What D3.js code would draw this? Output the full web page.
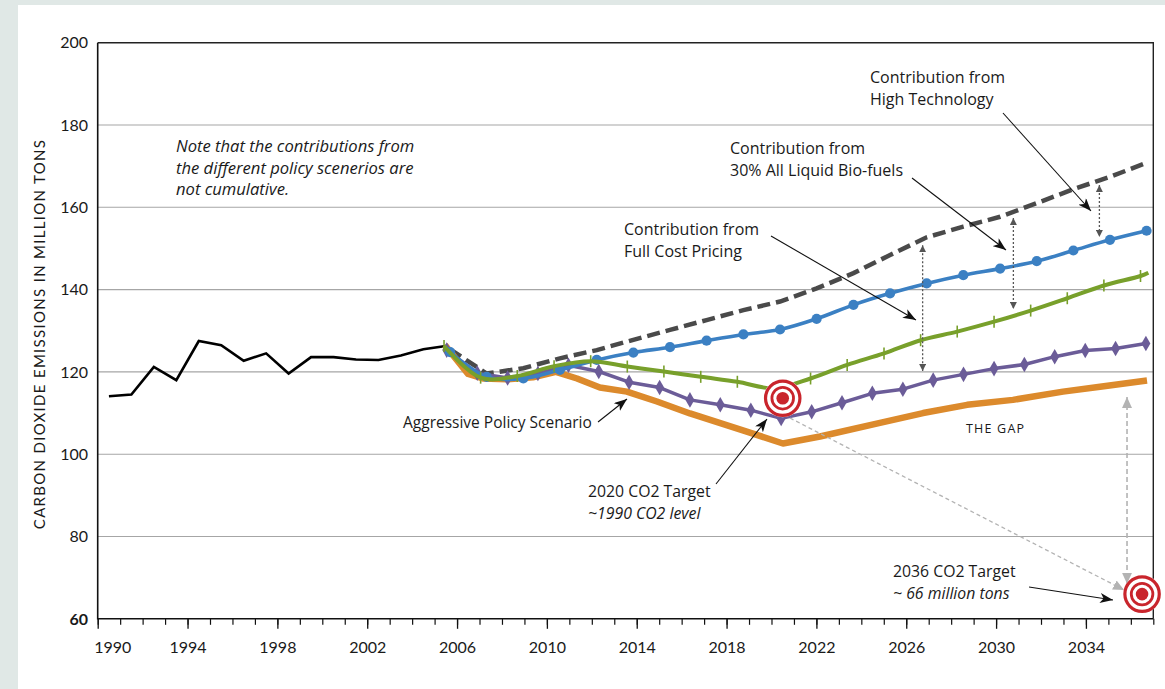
<!DOCTYPE html>
<html><head><meta charset="utf-8">
<script src="https://cdn.jsdelivr.net/npm/d3@7"></script>
<style>
body{margin:0;background:#e0e8e6}
text{font-family:Lato,"Open Sans",sans-serif;fill:#1a1a1a}
text.ann{font-family:"Open Sans",Lato,sans-serif}
</style>
</head><body>
<svg id="c" width="1165" height="689"></svg>
<script>
// ---------------- DATA ----------------
const histYears  = [1990,1991,1992,1993,1994,1995,1996,1997,1998,1999,2000,2001,2002,2003,2004,2005];
const histValues = [114.1,114.5,121.2,118.0,127.5,126.5,122.7,124.5,119.6,123.6,123.6,123.0,122.9,124.0,125.5,126.3];

const scenarioYears = [2005.69,2007.32,2008.95,2010.58,2012.22,2013.85,2015.48,2017.11,2018.75,2020.38,
                       2022.01,2023.65,2025.28,2026.91,2028.54,2030.18,2031.81,2033.44,2035.07,2036.70];
const baselineValues = [125.5,119.6,120.9,123.3,125.3,127.8,130.2,132.6,135.0,137.1,
                        140.3,144.0,148.4,152.7,155.3,157.7,161.0,164.4,167.4,170.8];
const highTechValues = [124.8,118.8,118.4,120.5,122.9,124.7,126.0,127.6,129.1,130.3,
                        132.9,136.3,139.1,141.5,143.5,145.1,146.9,149.5,152.1,154.3];

const bioFuelYears  = [2005.42,2007.05,2008.68,2010.32,2011.95,2013.58,2015.21,2016.85,2018.48,2020.11,
                       2021.74,2023.37,2025.01,2026.64,2028.27,2029.91,2031.54,2033.17,2034.80,2036.43,2036.78];
const bioFuelValues = [126.3,118.6,119.0,121.4,122.6,121.3,120.1,118.8,117.6,116.0,
                       118.4,121.7,124.5,127.7,129.8,132.2,134.9,137.9,141.0,143.3,144.1];
const bioFuelMarked = 20; // ticks on the first 20 points only

const fullCostYears  = [2005.54,2006.90,2008.25,2009.60,2010.96,2012.31,2013.66,2015.02,2016.37,2017.72,2019.08,2020.43,
                        2021.79,2023.14,2024.49,2025.85,2027.20,2028.55,2029.91,2031.26,2032.61,2033.97,2035.32,2036.67];
const fullCostValues = [125.3,119.7,118.5,119.6,121.6,120.1,117.5,116.2,113.2,112.0,110.7,108.7,
                        110.3,112.5,114.8,115.8,118.0,119.4,120.8,121.8,123.7,125.2,125.7,126.9];

const aggressiveYears  = [2005.46,2006.49,2007.15,2008.22,2009.38,2010.40,2011.34,2012.36,2013.56,2014.90,2016.37,
                          2018.90,2020.51,2022.16,2024.83,2026.75,2028.71,2030.75,2032.98,2034.63,2036.72];
const aggressiveValues = [126.5,119.5,118.4,118.2,118.7,120.0,118.4,116.2,115.2,112.8,109.9,
                          105.5,102.6,104.3,107.6,110.0,112.0,113.2,115.2,116.4,117.9];

const targets = [{year:2020.5, value:113.6},{year:2036.5, value:66}];

const yTicks = [60,80,100,120,140,160,180,200];
const gridValues = [80,100,120,140,160,180];
const xLabelYears = [1990,1994,1998,2002,2006,2010,2014,2018,2022,2026,2030,2034];
const minorYears = d3.range(1990,2038);

// contribution double arrows: [year, fromValue, toValue]
const contribArrows = [[2026.73,150.8,120.2],[2030.77,157.4,135.3],[2034.60,165.4,152.8]];

// ---------------- CHART ----------------
const svg = d3.select('#c');
svg.append('rect').attr('width',1165).attr('height',689).attr('fill','#e0e8e6');
svg.append('rect').attr('x',18).attr('y',5).attr('width',1147).attr('height',684).attr('fill','#fff');

const m = {l:97.7, r:1153.3, t:42.7, b:618.8};
const x = d3.scaleLinear().domain([1990,2037]).range([m.l,m.r]);
const y = d3.scaleLinear().domain([60,200]).range([m.b,m.t]);

const defs = svg.append('defs');
function marker(id, w, h, fill, path){
  defs.append('marker').attr('id',id).attr('viewBox',`0 0 ${w} ${h}`)
    .attr('refX',w).attr('refY',h/2).attr('markerWidth',w).attr('markerHeight',h)
    .attr('markerUnits','userSpaceOnUse').attr('orient','auto-start-reverse')
    .append('path').attr('d',path).attr('fill',fill);
}
marker('ab',13,10,'#111','M0,0 L13,5 L0,10 L3.5,5 Z');
marker('ad',7,7,'#555','M0,0 L7,3.5 L0,7 Z');
marker('ag',11,10,'#b3b3b3','M0,0 L11,5 L0,10 Z');

// grid
svg.append('g').selectAll('line').data(gridValues).join('line')
  .attr('x1',m.l).attr('x2',m.r).attr('y1',d=>y(d)).attr('y2',d=>y(d))
  .attr('stroke','#a6a6a6').attr('stroke-width',1.1);

// frame top/right
svg.append('path').attr('d',`M${m.l},${m.t}H${m.r}V${m.b}`).attr('fill','none')
  .attr('stroke','#222').attr('stroke-width',1.4);

// y labels
svg.append('g').selectAll('text').data(yTicks).join('text')
  .attr('x',88).attr('y',d=>y(d)).attr('dy','0.36em').attr('text-anchor','end')
  .attr('font-size',16).attr('font-weight',d=>d===60?700:400).text(d=>d);

// x axis minor + major ticks
const minorAxis = d3.axisBottom(x).tickValues(minorYears).tickSize(6).tickFormat('');
const gMinor = svg.append('g').attr('transform',`translate(0,${m.b})`).call(minorAxis);
gMinor.select('.domain').remove();
gMinor.selectAll('line').attr('stroke','#111').attr('stroke-width',1.2);
const majorAxis = d3.axisBottom(x).tickValues(xLabelYears).tickSize(10).tickPadding(13).tickFormat(d3.format('d'));
const gMajor = svg.append('g').attr('transform',`translate(0,${m.b})`).call(majorAxis);
gMajor.select('.domain').remove();
gMajor.selectAll('line').attr('stroke','#111').attr('stroke-width',1.3);
gMajor.selectAll('text').attr('font-size',16).attr('font-family','Lato,"Open Sans",sans-serif').attr('fill','#1a1a1a');
gMajor.selectAll('text').filter(d=>d===1990).attr('text-anchor','start').attr('x',-4);

// axes lines
svg.append('path').attr('d',`M${m.l},${m.t}V${m.b}H${m.r}`).attr('fill','none')
  .attr('stroke','#111').attr('stroke-width',1.6);

// y title
svg.append('text').attr('transform',`translate(45,334) rotate(-90)`).attr('text-anchor','middle')
  .attr('font-size',15).attr('letter-spacing',1.3).text('CARBON DIOXIDE EMISSIONS IN MILLION TONS');

// ---------------- SERIES ----------------
const zip = (xs,vs)=>xs.map((d,i)=>[d,vs[i]]);
const lineLin = d3.line().x(d=>x(d[0])).y(d=>y(d[1]));
const lineSm = d3.line().x(d=>x(d[0])).y(d=>y(d[1])).curve(d3.curveCatmullRom.alpha(0.5));

const histPts = histYears.map((d,i)=>[d+0.5,histValues[i]]);
svg.append('path').attr('d',lineLin(histPts)).attr('fill','none').attr('stroke','#000').attr('stroke-width',2.6);

// baseline dashed
svg.append('path').attr('d',lineLin(zip(scenarioYears,baselineValues))).attr('fill','none')
  .attr('stroke','#4a4a4a').attr('stroke-width',4.5).attr('stroke-dasharray','13,6');

// aggressive orange
svg.append('path').attr('d',lineLin(zip(aggressiveYears,aggressiveValues))).attr('fill','none')
  .attr('stroke','#dc8a2c').attr('stroke-width',6.5).attr('stroke-linejoin','round');

// full cost purple
const fcPts = zip(fullCostYears,fullCostValues);
svg.append('path').attr('d',lineLin(fcPts)).attr('fill','none')
  .attr('stroke','#6b5c98').attr('stroke-width',3.5).attr('stroke-linejoin','round');
svg.append('g').selectAll('path').data(fcPts).join('path')
  .attr('d',d3.symbol(d3.symbolDiamond,70)).attr('fill','#6b5c98')
  .attr('transform',d=>`translate(${x(d[0])},${y(d[1])})`);

// high tech blue
const htPts = zip(scenarioYears,highTechValues);
svg.append('path').attr('d',lineSm(htPts)).attr('fill','none')
  .attr('stroke','#3b80c3').attr('stroke-width',3.6);
svg.append('g').selectAll('circle').data(htPts).join('circle')
  .attr('cx',d=>x(d[0])).attr('cy',d=>y(d[1])).attr('r',5.1).attr('fill','#3b80c3');

// bio fuels green
const bfPts = zip(bioFuelYears,bioFuelValues);
svg.append('path').attr('d',lineSm(bfPts)).attr('fill','none')
  .attr('stroke','#78a02b').attr('stroke-width',4);
svg.append('g').selectAll('line').data(bfPts.slice(0,bioFuelMarked)).join('line')
  .attr('x1',d=>x(d[0])).attr('x2',d=>x(d[0])).attr('y1',d=>y(d[1])-6).attr('y2',d=>y(d[1])+6)
  .attr('stroke','#78a02b').attr('stroke-width',1.6);

// ---------------- ANNOTATIONS ----------------
svg.append('line').attr('x1',x(2020.82)).attr('y1',y(108.8)).attr('x2',x(2035.7)).attr('y2',y(67.0))
  .attr('stroke','#b3b3b3').attr('stroke-width',1.3).attr('stroke-dasharray','4,3').attr('marker-end','url(#ag)');
svg.append('line').attr('x1',x(2035.83)).attr('y1',y(113.9)).attr('x2',x(2035.83)).attr('y2',y(68.5))
  .attr('stroke','#b3b3b3').attr('stroke-width',1.6).attr('stroke-dasharray','5,3')
  .attr('marker-start','url(#ag)').attr('marker-end','url(#ag)');

svg.append('g').selectAll('line').data(contribArrows).join('line')
  .attr('x1',d=>x(d[0])).attr('x2',d=>x(d[0])).attr('y1',d=>y(d[1])).attr('y2',d=>y(d[2]))
  .attr('stroke','#555').attr('stroke-width',1.3).attr('stroke-dasharray','2,2')
  .attr('marker-start','url(#ad)').attr('marker-end','url(#ad)');

const tg = svg.append('g').selectAll('g').data(targets).join('g')
  .attr('transform',d=>`translate(${x(d.year)},${y(d.value)})`);
tg.append('circle').attr('r',19).attr('fill','#fff');
tg.append('circle').attr('r',17.2).attr('fill','none').attr('stroke','#c9252c').attr('stroke-width',3.2);
tg.append('circle').attr('r',10.8).attr('fill','none').attr('stroke','#c9252c').attr('stroke-width',2.8);
tg.append('circle').attr('r',6.3).attr('fill','#c9252c');

const arrows = [
  [1003,113,1091,211],
  [912,178,1006,250],
  [771,236,916,320],
  [598,422,627,399],
  [716,484,767,419],
  [1029,587,1113,600]
];
svg.append('g').selectAll('line').data(arrows).join('line')
  .attr('x1',d=>d[0]).attr('y1',d=>d[1]).attr('x2',d=>d[2]).attr('y2',d=>d[3])
  .attr('stroke','#111').attr('stroke-width',1.1).attr('marker-end','url(#ab)');

function label(xp, yp, lines, opts={}){
  const t = svg.append('text').attr('class','ann').attr('x',xp).attr('y',yp).attr('font-size',opts.size||15.5);
  lines.forEach((l,i)=>{
    const s = t.append('tspan').attr('x',xp).attr('dy',i===0?0:(opts.lh||21.5)).text(l.text||l);
    if(l.italic) s.attr('font-style','italic');
  });
  if(opts.italic) t.attr('font-style','italic');
  if(opts.ls) t.attr('letter-spacing',opts.ls);
  return t;
}
label(176,152,['Note that the contributions from','the different policy scenerios are','not cumulative.'],{italic:true,size:16.6});
label(870,83,['Contribution from','High Technology'],{size:16});
label(730,154,['Contribution from','30% All Liquid Bio-fuels'],{size:16});
label(624,235,['Contribution from','Full Cost Pricing'],{size:16});
label(403,428,['Aggressive Policy Scenario']);
label(588,497,['2020 CO2 Target',{text:'~1990 CO2 level',italic:true}],{size:15.8});
label(893,577,['2036 CO2 Target',{text:'~ 66 million tons',italic:true}],{size:15.8});
label(966,433,['THE GAP'],{size:12.5,ls:1.2});
</script>
</body></html>
